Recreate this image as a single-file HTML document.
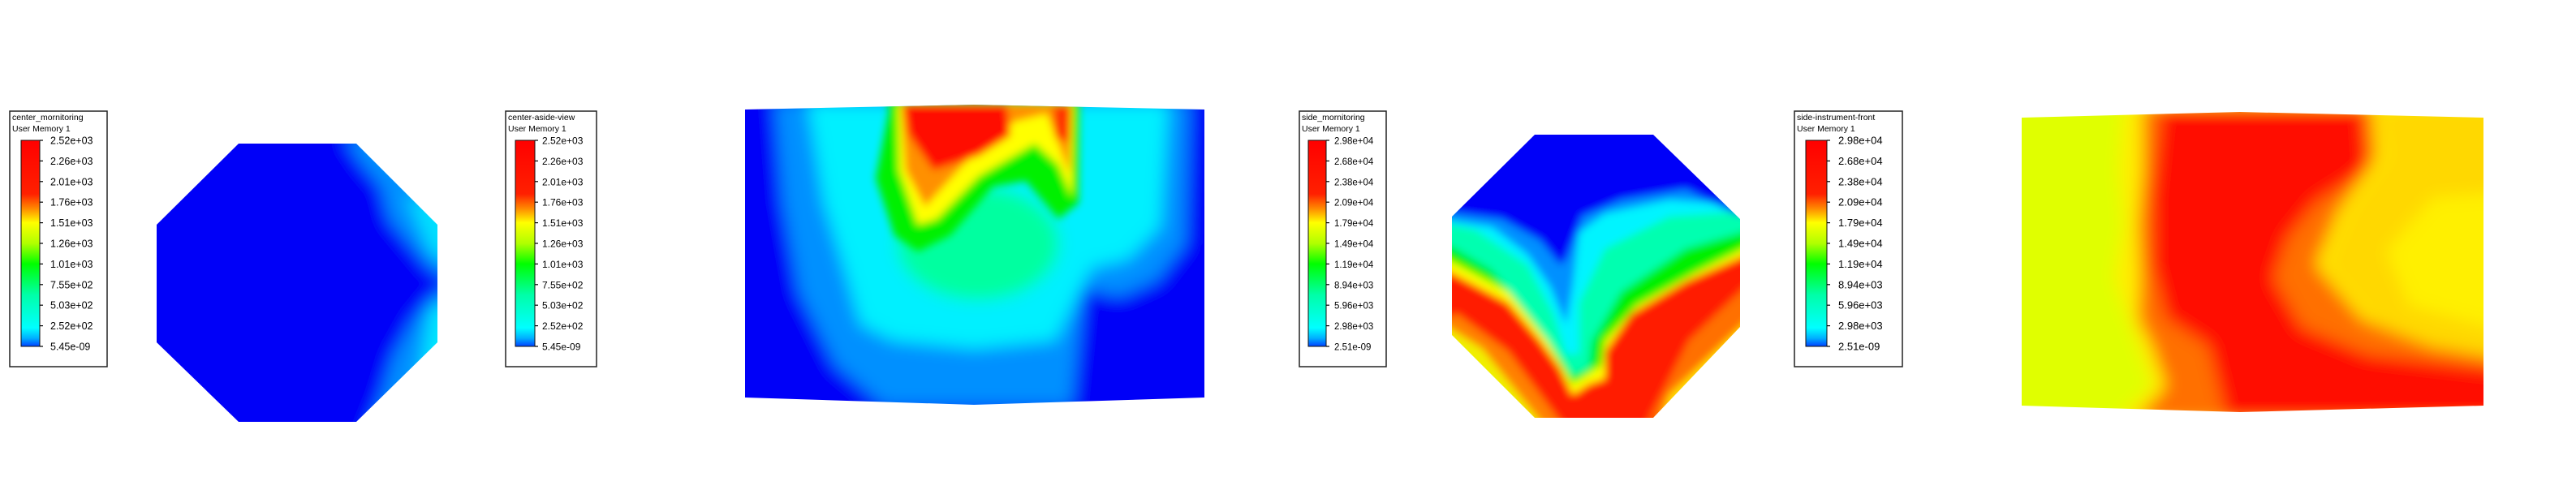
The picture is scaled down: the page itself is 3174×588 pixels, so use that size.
<!DOCTYPE html>
<html><head><meta charset="utf-8"><style>
html,body{margin:0;padding:0;background:#fff;width:3174px;height:588px;overflow:hidden}
svg{display:block}
text{font-family:"Liberation Sans",sans-serif;fill:#000}
</style></head><body>
<svg id="s" width="3174" height="588" viewBox="0 0 3174 588" xmlns="http://www.w3.org/2000/svg">
<defs>
<linearGradient id="cmap" x1="0" y1="1" x2="0" y2="0">
<stop offset="0" stop-color="#0040ff"/><stop offset="0.04" stop-color="#00b0ff"/><stop offset="0.09" stop-color="#00ffff"/>
<stop offset="0.25" stop-color="#00ffa8"/><stop offset="0.4" stop-color="#00ff00"/><stop offset="0.5" stop-color="#b0ff00"/>
<stop offset="0.6" stop-color="#ffff00"/><stop offset="0.67" stop-color="#ff8800"/><stop offset="0.74" stop-color="#ff2000"/><stop offset="1" stop-color="#ff0000"/>
</linearGradient>
<filter id="b6" x="-20%" y="-20%" width="140%" height="140%"><feGaussianBlur stdDeviation="10"/></filter>
<filter id="b4" x="-20%" y="-20%" width="140%" height="140%"><feGaussianBlur stdDeviation="5"/></filter>
<clipPath id="c1"><polygon points="294,177 439,177 539,277 539,422 439,520 294,520 193,422 193,277"/></clipPath>
<clipPath id="c2"><polygon points="918,135 1200,129 1484,135 1484,490 1200,499 918,490"/></clipPath>
<clipPath id="c3"><polygon points="1891,166 2037,166 2144,270 2144,403 2037,515 1891,515 1789,413 1789,267"/></clipPath>
<clipPath id="c4"><polygon points="2491,145 2760,138 3060,145 3060,500 2760,508 2491,500"/></clipPath>
</defs>

<!-- Panel 1 -->
<g clip-path="url(#c1)">
<g filter="url(#b6)">
<rect x="150" y="150" width="420" height="400" fill="#0000f8"/>
<polygon points="425,170 560,170 560,350 530,330 505,300 480,270 470,230 445,200" fill="#0090ff"/>
<polygon points="560,345 560,540 450,540 470,490 485,440 510,395 535,365" fill="#0090ff"/>
<polygon points="500,240 560,260 560,330 530,310" fill="#00e0ff"/>
<polygon points="530,380 560,370 560,460 515,475" fill="#00e8ff"/>
</g>
</g>

<!-- Panel 2 -->
<g clip-path="url(#c2)">
<g filter="url(#b6)">
<rect x="890" y="110" width="620" height="410" fill="#0000f8"/>
<polygon points="955,125 1465,125 1460,300 1425,345 1380,365 1335,355 1320,500 1090,500 1030,450 985,360 965,250" fill="#0090ff"/>
<polygon points="995,125 1440,125 1430,280 1390,320 1345,330 1320,380 1300,420 1200,430 1100,420 1060,400 1040,330 1015,250" fill="#00f0ff"/>
<ellipse cx="1205" cy="300" rx="100" ry="70" fill="#00ffa0"/>
</g>
<g filter="url(#b4)">
<polygon points="1090,125 1096,133 1079,220 1102,290 1131,310 1171,290 1223,230 1264,223 1304,270 1329,250 1330,125" fill="#00f000"/>
<polygon points="1106,128 1108,210 1131,277 1154,270 1206,217 1275,177 1304,203 1321,243 1323,128" fill="#ffff00"/>
<polygon points="1110,128 1116,210 1140,255 1190,200 1250,150 1290,140 1305,180 1318,215 1320,128" fill="#ff9000"/>
<polygon points="1114,128 1119,165 1150,210 1206,192 1245,167 1240,128" fill="#ff1000"/>
<polygon points="1298,130 1320,130 1318,175 1300,170" fill="#ff3000"/>
</g>
</g>

<!-- Panel 3 -->
<g clip-path="url(#c3)">
<g filter="url(#b4)">
<g transform="translate(1580,120) scale(0.3975,0.3333)">
<rect x="480" y="100" width="1000" height="1130" fill="#ff1a00"/>
<polygon points="480,840 790,1230 880,1230 700,940 540,800" fill="#ff8000"/>
<polygon points="480,880 770,1230 820,1230 620,930 500,840" fill="#f0f000"/>
<polygon points="1120,1230 1480,800 1480,650 1260,900" fill="#ff7000"/>
<polygon points="1160,1230 1480,850 1480,780 1200,1100" fill="#ffe000"/>
<polygon points="480,100 1480,100 1480,560 1250,680 1080,800 1000,940 1000,1040 950,1060 900,1100 860,1000 800,900 700,760 480,620" fill="#ffff00"/>
<polygon points="480,100 1480,100 1480,530 1280,650 1100,770 1000,900 990,990 940,1030 900,1060 870,1000 820,900 700,720 480,580" fill="#00f000"/>
<polygon points="480,100 1480,100 1480,480 1250,560 1050,720 960,900 950,1000 900,1030 860,960 780,830 650,640 480,520" fill="#00ffb0"/>
<polygon points="480,100 1480,100 1450,420 1200,440 1000,560 920,760 920,950 880,950 840,800 760,620 600,490 480,460" fill="#00f4ff"/>
<polygon points="480,100 1480,100 1440,400 1200,380 1000,430 920,500 900,700 880,840 830,700 760,580 650,480 480,450" fill="#0090ff"/>
<polygon points="480,100 1480,100 1420,440 1250,340 1050,380 930,440 880,600 860,620 800,530 680,450 480,420" fill="#0000f8"/>
</g>
</g>
</g>

<!-- Panel 4 -->
<g clip-path="url(#c4)">
<g filter="url(#b6)">
<g transform="translate(2190,110) scale(0.577,0.3333)">
<rect x="450" y="40" width="1120" height="1200" fill="#e0ff00"/>
<polygon points="1230,60 1560,60 1560,1010 1300,900 1190,760 1150,600 1240,350" fill="#ffd800"/>
<polygon points="1400,400 1560,380 1560,900 1350,800 1300,600" fill="#fff000"/>
<polygon points="740,60 1280,60 1300,250 1220,450 1170,650 1270,850 1420,950 1560,990 1560,1230 720,1230 800,1100 760,900 720,700 740,500 730,300" fill="#ffee00"/>
<polygon points="780,60 1270,60 1280,250 1200,450 1150,650 1250,850 1400,950 1560,1000 1560,1230 760,1230 830,1100 800,950 770,850 775,700 770,500 780,300" fill="#ff7000"/>
<polygon points="820,60 1250,60 1260,300 1150,420 1090,550 1060,700 1120,880 1260,980 1560,1040 1560,1230 960,1230 920,950 830,850 800,650 800,400" fill="#ff1000"/>
</g>
</g>
</g>

<g id="legends"></g>
</svg>
<script>
const labelsCenter = ["2.52e+03","2.26e+03","2.01e+03","1.76e+03","1.51e+03","1.26e+03","1.01e+03","7.55e+02","5.03e+02","2.52e+02","5.45e-09"];
const labelsSide = ["2.98e+04","2.68e+04","2.38e+04","2.09e+04","1.79e+04","1.49e+04","1.19e+04","8.94e+03","5.96e+03","2.98e+03","2.51e-09"];
const legendTitles = ["center_mornitoring","center-aside-view","side_mornitoring","side-instrument-front"];
const legendNames = ["center-monitoring-legend","center-aside-view-legend","side-monitoring-legend","side-instrument-front-legend"];
const legendLabelSets = [labelsCenter, labelsCenter, labelsSide, labelsSide];
const NS = "http://www.w3.org/2000/svg";
const geo = [
 {bx:12,bw:120,cx:26,cw:23,lx:62,fs:12.5},
 {bx:623,bw:112,cx:635,cw:24,lx:668,fs:12},
 {bx:1601,bw:107,cx:1612,cw:22,lx:1644,fs:11.5},
 {bx:2211,bw:133,cx:2225,cw:26,lx:2265,fs:13}
];
const top0 = 173, bot0 = 427;
const root = document.getElementById("legends");
function mk(tag, attrs, parent){const e=document.createElementNS(NS,tag);for(const k in attrs)e.setAttribute(k,attrs[k]);parent.appendChild(e);return e;}
legendTitles.forEach((title,i)=>{
  const g=geo[i];
  const grp=mk("g",{},root);
  
  
  const box=mk("rect",{x:g.bx,y:137,width:g.bw,height:315,fill:"#fff",stroke:"#222","stroke-width":1.5},grp);
  
  
  const t1=mk("text",{x:g.bx+3,y:148,"font-size":10.5},grp); t1.textContent=title;
  
  
  const t2=mk("text",{x:g.bx+3,y:162,"font-size":10.5},grp); t2.textContent="User Memory 1";
  
  
  const bar=mk("rect",{x:g.cx,y:top0,width:g.cw,height:bot0-top0,fill:"url(#cmap)",stroke:"#111","stroke-width":1},grp);
  
  
  const labs=legendLabelSets[i], n=labs.length;
  labs.forEach((lab,j)=>{
    const y=top0+(bot0-top0)*j/(n-1);
    const tk=mk("line",{x1:g.cx+g.cw,x2:g.cx+g.cw+4,y1:y,y2:y,stroke:"#000","stroke-width":1.2},grp);
    
    
    const tx=mk("text",{x:g.lx,y:y+4.5,"font-size":g.fs},grp); tx.textContent=lab;
    
    
  });
});
</script>
</body></html>
